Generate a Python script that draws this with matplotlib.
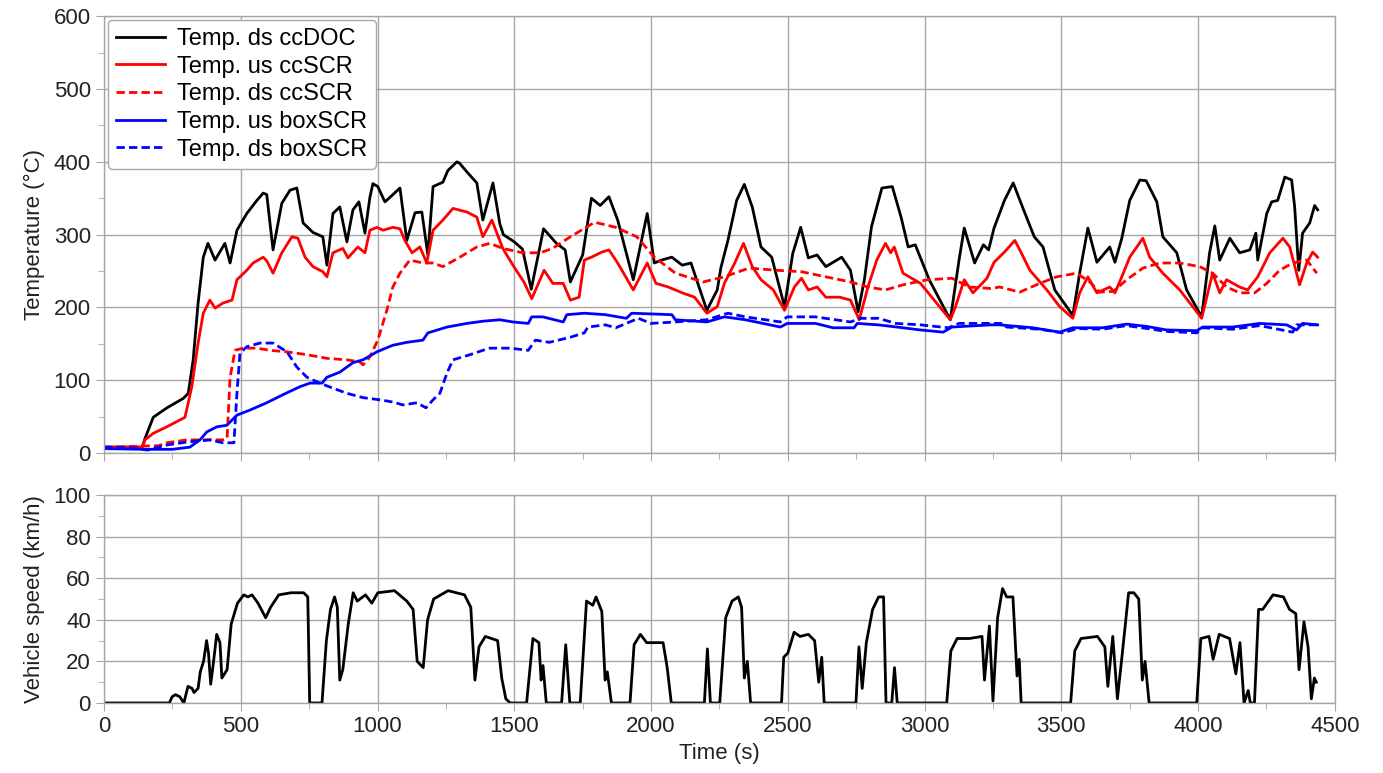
import numpy as np
import matplotlib
matplotlib.use("Agg")
import matplotlib.pyplot as plt
from matplotlib.ticker import MultipleLocator

plt.rcParams['font.family'] = ['Liberation Sans', 'DejaVu Sans']

# 数据: [时间 s, 数值]
ds_ccdoc = np.array([
    [0, 8], [140, 8], [150, 20], [180, 49], [230, 62], [290, 75], [308, 82], [326, 128], [344, 206],
    [363, 269], [380, 288], [406, 265], [442, 288], [461, 261], [486, 306], [522, 329], [559, 347],
    [582, 357], [595, 355], [618, 279], [650, 343], [680, 361], [705, 364], [728, 316], [764, 303],
    [800, 297], [815, 258], [837, 329], [862, 338], [888, 290], [910, 334], [932, 345], [954, 302],
    [972, 351], [983, 370], [1001, 366], [1027, 345], [1045, 351], [1082, 364], [1107, 292],
    [1137, 330], [1162, 331], [1184, 272], [1203, 366], [1239, 372], [1257, 388], [1290, 400],
    [1300, 398], [1327, 386], [1363, 371], [1385, 320], [1422, 371], [1447, 315], [1460, 300],
    [1500, 290], [1530, 280], [1562, 225], [1607, 308], [1654, 288], [1686, 279], [1705, 235],
    [1750, 272], [1782, 350], [1814, 340], [1846, 352], [1878, 320], [1935, 238], [1986, 329],
    [2012, 261], [2038, 265], [2076, 269], [2114, 258], [2146, 261], [2204, 196], [2242, 224],
    [2255, 254], [2281, 292], [2313, 347], [2341, 369], [2370, 338], [2402, 283], [2441, 269],
    [2488, 201], [2518, 274], [2547, 310], [2575, 268], [2607, 272], [2639, 256], [2697, 269],
    [2729, 251], [2757, 194], [2780, 238], [2806, 311], [2844, 364], [2882, 366], [2914, 324],
    [2940, 283], [2966, 286], [3017, 238], [3094, 183], [3126, 265], [3145, 309], [3183, 261],
    [3215, 286], [3234, 279], [3254, 309], [3292, 347], [3324, 371], [3362, 334], [3401, 297],
    [3433, 283], [3476, 224], [3542, 189], [3567, 247], [3597, 309], [3630, 262], [3677, 283],
    [3696, 262], [3721, 295], [3750, 347], [3787, 375], [3810, 374], [3849, 345], [3871, 297],
    [3922, 275], [3958, 224], [4013, 187], [4042, 275], [4061, 312], [4079, 265], [4116, 295],
    [4152, 275], [4189, 279], [4211, 302], [4218, 265], [4251, 329], [4269, 345], [4291, 347],
    [4317, 379], [4342, 375], [4353, 338], [4368, 251], [4382, 302], [4408, 316], [4426, 340],
    [4437, 334]])

us_ccscr = np.array([
    [0, 8], [140, 8], [150, 18], [180, 27], [230, 36], [296, 49], [321, 91], [344, 151], [363, 192],
    [387, 210], [406, 199], [435, 206], [468, 210], [486, 238], [522, 251], [545, 261], [582, 269],
    [595, 264], [618, 247], [650, 275], [687, 297], [709, 295], [735, 269], [764, 256], [800, 249],
    [815, 242], [837, 275], [873, 281], [892, 268], [928, 283], [954, 275], [972, 306], [998, 310],
    [1020, 306], [1056, 310], [1082, 308], [1100, 292], [1126, 275], [1155, 283], [1180, 261],
    [1203, 306], [1239, 320], [1276, 336], [1327, 331], [1363, 324], [1385, 297], [1418, 320],
    [1458, 281], [1500, 255], [1535, 235], [1564, 212], [1609, 251], [1641, 233], [1679, 233],
    [1705, 210], [1737, 214], [1756, 265], [1782, 269], [1820, 276], [1846, 279], [1878, 261],
    [1935, 224], [1986, 261], [2018, 233], [2063, 228], [2114, 220], [2159, 214], [2204, 192],
    [2242, 201], [2268, 233], [2306, 261], [2338, 288], [2370, 256], [2402, 238], [2447, 224],
    [2488, 196], [2524, 228], [2550, 240], [2575, 224], [2607, 228], [2639, 214], [2690, 214],
    [2729, 210], [2761, 183], [2793, 228], [2825, 265], [2857, 288], [2876, 275], [2889, 283],
    [2921, 247], [2985, 233], [3094, 183], [3113, 201], [3145, 238], [3177, 220], [3228, 240],
    [3254, 262], [3292, 276], [3330, 292], [3348, 279], [3385, 251], [3447, 224], [3494, 201],
    [3542, 185], [3567, 220], [3597, 242], [3630, 220], [3677, 228], [3696, 220], [3721, 242],
    [3750, 269], [3798, 295], [3823, 269], [3871, 247], [3933, 224], [4013, 185], [4053, 247],
    [4079, 220], [4104, 238], [4152, 228], [4181, 224], [4218, 242], [4262, 275], [4310, 295],
    [4335, 283], [4371, 231], [4397, 261], [4419, 276], [4437, 269]])

ds_ccscr = np.array([
    [0, 8], [200, 10], [230, 14], [303, 18], [435, 18], [450, 20], [461, 104], [479, 141],
    [508, 144], [559, 144], [607, 141], [669, 139], [742, 135], [815, 130], [888, 128], [936, 125],
    [947, 121], [972, 132], [1001, 155], [1034, 196], [1056, 228], [1082, 247], [1118, 265],
    [1166, 261], [1203, 261], [1239, 256], [1301, 269], [1363, 283], [1411, 288], [1458, 281],
    [1531, 275], [1594, 275], [1640, 281], [1705, 297], [1794, 317], [1871, 310], [1948, 297],
    [2012, 269], [2089, 247], [2191, 235], [2268, 242], [2358, 254], [2460, 251], [2550, 249],
    [2639, 242], [2729, 235], [2793, 228], [2857, 224], [2921, 231], [3010, 238], [3100, 240],
    [3164, 228], [3241, 226], [3275, 228], [3348, 221], [3421, 233], [3483, 242], [3556, 247],
    [3604, 235], [3640, 221], [3690, 222], [3739, 238], [3798, 254], [3860, 261], [3933, 261],
    [4006, 256], [4053, 247], [4104, 228], [4152, 220], [4207, 220], [4251, 233], [4298, 251],
    [4346, 261], [4397, 265], [4434, 247]])

us_boxscr = np.array([
    [0, 6], [150, 5], [250, 5], [314, 8], [351, 18], [376, 29], [413, 36], [449, 38], [486, 52],
    [534, 59], [595, 69], [654, 80], [716, 91], [753, 96], [797, 96], [815, 104], [862, 111],
    [910, 124], [947, 128], [998, 139], [1056, 148], [1107, 152], [1166, 155], [1184, 165],
    [1254, 173], [1327, 178], [1385, 181], [1447, 183], [1495, 180], [1551, 178], [1564, 187],
    [1604, 187], [1679, 180], [1692, 190], [1756, 192], [1833, 190], [1910, 185], [1929, 192],
    [2076, 190], [2089, 183], [2204, 180], [2268, 187], [2345, 183], [2473, 173], [2498, 178],
    [2601, 178], [2665, 172], [2742, 172], [2754, 178], [2831, 176], [2921, 172], [2985, 169],
    [3068, 166], [3100, 173], [3241, 176], [3275, 176], [3396, 172], [3494, 166], [3542, 172],
    [3650, 172], [3739, 177], [3810, 174], [3885, 169], [3995, 168], [4017, 173], [4126, 173],
    [4225, 178], [4324, 176], [4360, 169], [4382, 178], [4437, 176]])

ds_boxscr = np.array([
    [0, 8], [100, 7], [160, 4], [230, 11], [303, 15], [387, 18], [435, 14], [475, 14], [486, 82],
    [497, 137], [522, 146], [570, 151], [618, 151], [669, 139], [705, 118], [742, 104], [789, 96],
    [837, 89], [888, 82], [947, 76], [1009, 73], [1056, 70], [1093, 66], [1144, 69], [1177, 62],
    [1203, 73], [1228, 82], [1254, 110], [1276, 128], [1338, 135], [1385, 141], [1411, 144],
    [1484, 144], [1551, 141], [1577, 155], [1628, 152], [1705, 159], [1756, 165], [1769, 173],
    [1833, 176], [1871, 172], [1954, 185], [1999, 178], [2089, 180], [2204, 183], [2281, 192],
    [2345, 187], [2473, 180], [2498, 187], [2601, 187], [2729, 180], [2767, 185], [2831, 185],
    [2895, 178], [2985, 176], [3087, 172], [3126, 178], [3279, 178], [3300, 173], [3420, 170],
    [3505, 165], [3560, 171], [3650, 170], [3739, 175], [3885, 167], [3995, 165], [4017, 172],
    [4126, 170], [4225, 175], [4346, 166], [4360, 176], [4437, 176]])

speed = np.array([
    [0, 0], [239, 0], [249, 3], [261, 4], [277, 3], [292, 0], [307, 8], [322, 7], [329, 5], [344, 7],
    [352, 15], [364, 20], [375, 30], [382, 24], [390, 9], [397, 16], [412, 33], [424, 29], [431, 12],
    [450, 16], [465, 38], [488, 48], [511, 52], [526, 51], [541, 52], [563, 48], [591, 41], [609, 46],
    [639, 52], [684, 53], [730, 53], [745, 51], [752, 0], [797, 0], [813, 30], [828, 45], [843, 51],
    [853, 46], [862, 11], [873, 16], [893, 38], [911, 53], [926, 49], [956, 52], [979, 48], [1001, 53],
    [1062, 54], [1107, 49], [1130, 45], [1145, 20], [1167, 17], [1183, 40], [1205, 50], [1258, 54],
    [1318, 52], [1341, 46], [1356, 11], [1371, 27], [1394, 32], [1439, 30], [1454, 12], [1469, 2],
    [1485, 0], [1545, 0], [1568, 31], [1590, 29], [1598, 11], [1605, 18], [1617, 0], [1673, 0],
    [1688, 28], [1703, 0], [1741, 0], [1764, 49], [1787, 47], [1799, 51], [1820, 44], [1832, 11],
    [1840, 15], [1855, 0], [1923, 0], [1938, 28], [1961, 33], [1984, 29], [2014, 29], [2044, 29],
    [2059, 17], [2074, 0], [2195, 0], [2206, 26], [2217, 0], [2251, 0], [2273, 41], [2296, 49],
    [2319, 51], [2331, 46], [2341, 12], [2352, 20], [2364, 0], [2477, 0], [2485, 22], [2500, 24],
    [2523, 34], [2545, 32], [2575, 33], [2598, 30], [2613, 10], [2624, 22], [2633, 0], [2749, 0],
    [2760, 27], [2772, 7], [2787, 29], [2810, 45], [2832, 51], [2850, 51], [2859, 0], [2880, 0],
    [2890, 17], [2900, 0], [3081, 0], [3096, 25], [3119, 31], [3164, 31], [3210, 32], [3219, 11],
    [3237, 37], [3250, 1], [3267, 41], [3285, 55], [3300, 51], [3323, 51], [3338, 13], [3346, 21],
    [3353, 0], [3534, 0], [3549, 25], [3572, 31], [3632, 32], [3659, 27], [3670, 8], [3688, 32],
    [3705, 2], [3723, 24], [3746, 53], [3765, 53], [3783, 50], [3796, 11], [3806, 20], [3821, 0],
    [3995, 0], [4010, 31], [4040, 32], [4055, 21], [4077, 33], [4115, 31], [4138, 14], [4153, 29],
    [4168, 0], [4183, 6], [4191, 0], [4206, 0], [4221, 45], [4236, 45], [4274, 52], [4312, 51],
    [4334, 45], [4357, 43], [4369, 16], [4387, 39], [4402, 27], [4414, 2], [4425, 12], [4432, 10]])

temp_series = [
    (ds_ccdoc, 'Temp. ds ccDOC', 'black', '-'),
    (us_ccscr, 'Temp. us ccSCR', '#ff0000', '-'),
    (ds_ccscr, 'Temp. ds ccSCR', '#ff0000', '--'),
    (us_boxscr, 'Temp. us boxSCR', '#0000ff', '-'),
    (ds_boxscr, 'Temp. ds boxSCR', '#0000ff', '--'),
]

grid_col = '#a6a6a6'
fs = 16

fig = plt.figure(figsize=(13.83, 7.73), dpi=100)
ax1 = fig.add_axes([0.0752, 0.414, 0.890, 0.565])
ax2 = fig.add_axes([0.0752, 0.0906, 0.890, 0.269])

for data, label, col, ls in temp_series:
    ax1.plot(data[:, 0], data[:, 1], color=col, linestyle=ls, linewidth=2.0,
             label=label, dashes=(3, 1.5) if ls == '--' else (None, None))

ax2.plot(speed[:, 0], speed[:, 1], color='black', linewidth=2.0)

for ax in (ax1, ax2):
    ax.set_xlim(0, 4500)
    ax.xaxis.set_major_locator(MultipleLocator(500))
    ax.xaxis.set_minor_locator(MultipleLocator(250))
    ax.grid(True, which='major', color=grid_col, linewidth=1.0)
    ax.set_axisbelow(True)
    for sp in ax.spines.values():
        sp.set_color(grid_col)
        sp.set_linewidth(1.0)
    ax.tick_params(which='major', length=6, color=grid_col, labelsize=fs, labelcolor='#222222')
    ax.tick_params(which='minor', length=4, color=grid_col)

ax1.set_ylim(0, 600)
ax1.yaxis.set_major_locator(MultipleLocator(100))
ax1.yaxis.set_minor_locator(MultipleLocator(50))
ax1.tick_params(axis='x', labelbottom=False)
ax1.set_ylabel('Temperature (°C)', fontsize=fs, color='#222222', labelpad=6)

ax2.set_ylim(0, 100)
ax2.yaxis.set_major_locator(MultipleLocator(20))
ax2.yaxis.set_minor_locator(MultipleLocator(10))
ax2.set_ylabel('Vehicle speed (km/h)', fontsize=fs, color='#222222', labelpad=6)
ax2.set_xlabel('Time (s)', fontsize=fs, color='#222222', labelpad=4)

leg = ax1.legend(loc='upper left', fontsize=17, handlelength=2.1, handletextpad=0.5,
                 labelspacing=0.24, borderpad=0.35, borderaxespad=0.15, fancybox=True,
                 framealpha=1.0, edgecolor=grid_col)
leg.get_frame().set_linewidth(1.0)

fig.savefig('out.png', dpi=100)
